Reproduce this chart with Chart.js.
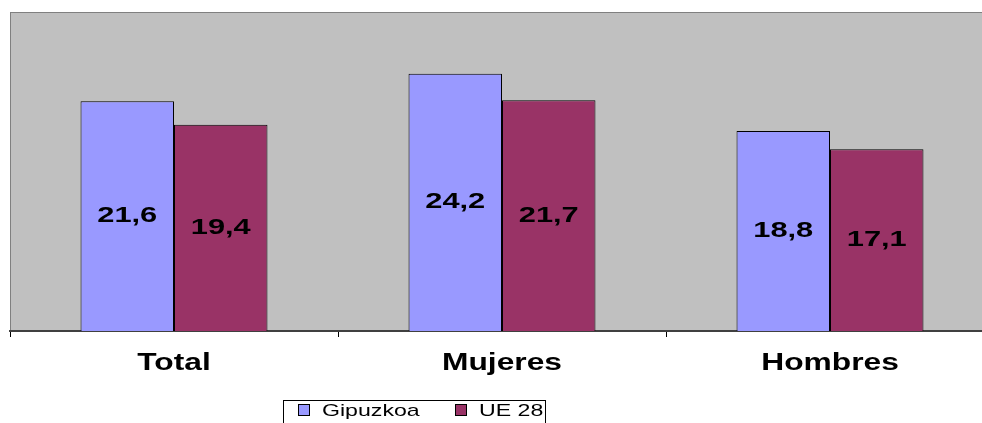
<!DOCTYPE html>
<html>
<head>
<meta charset="utf-8">
<script src="https://cdn.jsdelivr.net/npm/chart.js@4/dist/chart.umd.min.js"></script>
<style>
  html, body { margin: 0; padding: 0; background: #fff; overflow: hidden; }
  #wrap { width: 982px; height: 423px; overflow: hidden; }
</style>
</head>
<body>
<div id="wrap"><canvas id="chart" width="1000" height="423"></canvas></div>
<script>
const categories = ['Total', 'Mujeres', 'Hombres'];
const gipuzkoa = [21.6, 24.2, 18.8];
const ue28 = [19.4, 21.7, 17.1];
const seriesNames = ['Gipuzkoa', 'UE 28'];

const FONT = '"Liberation Sans", Arial, sans-serif';

// the original text is drawn wide, so stretch it horizontally
function wideText(ctx, text, x, y, sx) {
  ctx.save();
  ctx.translate(x, y);
  ctx.scale(sx, 1);
  ctx.fillText(text, 0, 0);
  ctx.restore();
}

// grey plot area with thin border on top/left
const plotBg = {
  id: 'plotBg',
  beforeDraw(chart) {
    const { ctx, chartArea: a } = chart;
    ctx.save();
    ctx.fillStyle = '#c0c0c0';
    ctx.fillRect(a.left, a.top, a.right - a.left, a.bottom - a.top);
    ctx.strokeStyle = '#808080';
    ctx.lineWidth = 1;
    ctx.strokeRect(a.left + 0.5, a.top + 0.5, a.right - a.left, a.bottom - a.top);
    ctx.restore();
  }
};

// value labels in the middle of each bar + category labels
const labels = {
  id: 'labels',
  afterDraw(chart) {
    const { ctx } = chart;
    ctx.save();
    ctx.fillStyle = '#000';
    ctx.textAlign = 'center';
    ctx.textBaseline = 'middle';
    ctx.font = 'bold 22px ' + FONT;
    chart.data.datasets.forEach((ds, i) => {
      chart.getDatasetMeta(i).data.forEach((bar, j) => {
        const y = (bar.y + bar.base) / 2;
        wideText(ctx, ds.data[j].toFixed(1).replace('.', ','), bar.x, y, 1.4);
      });
    });
    const xs = chart.scales.x;
    ctx.font = 'bold 23px ' + FONT;
    chart.data.labels.forEach((lab, j) => {
      wideText(ctx, lab, xs.getPixelForValue(j), 364, 1.38);
    });
    ctx.restore();
  }
};

// boxed legend like the original
const boxLegend = {
  id: 'boxLegend',
  afterDraw(chart) {
    const { ctx } = chart;
    const x0 = 283, y0 = 400;
    ctx.save();
    ctx.fillStyle = '#fff';
    ctx.fillRect(x0, y0, 262, 30);
    ctx.strokeStyle = '#000';
    ctx.lineWidth = 1;
    ctx.strokeRect(x0 + 0.5, y0 + 0.5, 262, 30);
    ctx.font = '17px ' + FONT;
    ctx.textBaseline = 'middle';
    ctx.textAlign = 'left';
    const offs = [15, 172];
    chart.data.datasets.forEach((ds, i) => {
      const sx = x0 + offs[i];
      ctx.fillStyle = ds.backgroundColor;
      ctx.fillRect(sx, 404, 11, 11);
      ctx.strokeStyle = '#000';
      ctx.strokeRect(sx + 0.5, 404.5, 11, 11);
      ctx.fillStyle = '#000';
      wideText(ctx, ds.label, sx + 24, 411, 1.36);
    });
    ctx.restore();
  }
};

new Chart(document.getElementById('chart'), {
  type: 'bar',
  data: {
    labels: categories,
    datasets: [
      { label: seriesNames[0], data: gipuzkoa, backgroundColor: '#9999ff', borderColor: '#000', borderWidth: 1 },
      { label: seriesNames[1], data: ue28, backgroundColor: '#993366', borderColor: '#000', borderWidth: 1 }
    ]
  },
  options: {
    responsive: false,
    animation: false,
    layout: { padding: { left: 10, top: 12, right: 6, bottom: 0 } },
    datasets: { bar: { categoryPercentage: 0.57, barPercentage: 1 } },
    plugins: { legend: { display: false }, tooltip: { enabled: false } },
    scales: {
      x: {
        offset: true,
        grid: { display: true, drawOnChartArea: false, offset: true, color: '#000', tickLength: 6 },
        border: { display: true, color: '#404040', width: 2 },
        ticks: { color: 'rgba(0,0,0,0)', font: { family: FONT, size: 22, weight: 'bold' }, padding: 14 },
        afterFit(scale) { scale.height = 92; }
      },
      y: { display: false, min: 0, max: 30 }
    }
  },
  plugins: [plotBg, labels, boxLegend]
});
</script>
</body>
</html>
